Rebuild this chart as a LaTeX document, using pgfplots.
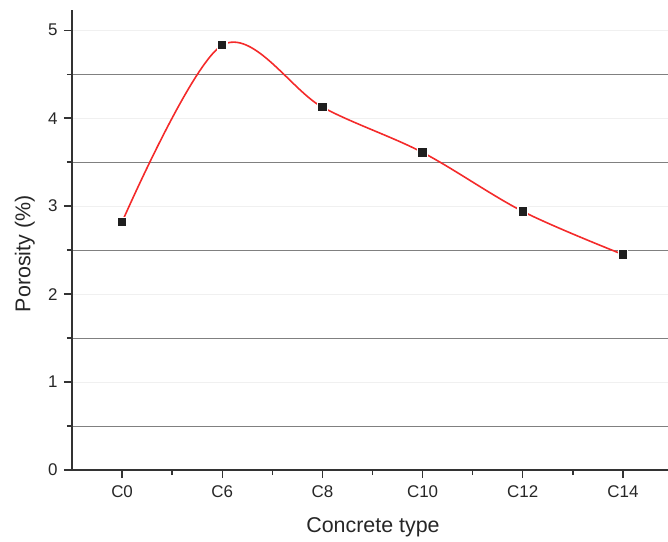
\documentclass[border=0pt]{standalone}
\usepackage{pgfplots}
\pgfplotsset{compat=1.18}
\usepackage{fontspec}
\setmainfont{Liberation Sans}
\definecolor{curvered}{HTML}{F42A2A}
\newcommand{\tf}{\fontsize{17}{20}\selectfont}
\begin{document}
\begin{tikzpicture}
\begin{axis}[
  at={(0,0)}, anchor=south west,
  scale only axis, width=596bp, height=460bp,
  xmin=-0.5, xmax=5.45, ymin=0, ymax=5.23,
  axis x line*=bottom, axis y line*=left,
  axis line style={line width=1.6pt, color=black!80},
  xtick={0,1,2,3,4,5},
  xticklabels={{\tf C0},{\tf C6},{\tf C8},{\tf C10},{\tf C12},{\tf C14}},
  minor x tick num=1,
  ytick={0,1,2,3,4,5},
  yticklabels={{\tf 0},{\tf 1},{\tf 2},{\tf 3},{\tf 4},{\tf 5}},
  minor y tick num=1,
  tick align=outside,
  major tick length=8bp, minor tick length=5bp,
  tick style={line width=1.4pt, color=black!80},
  ymajorgrids, yminorgrids,
  major grid style={line width=0.8pt, color=black!6},
  minor grid style={line width=1pt, color=black!50},
  xticklabel style={text=black!85, yshift=-4bp},
  yticklabel style={text=black!85, xshift=-3bp},
  xlabel={Concrete type}, ylabel={Porosity (\%)},
  label style={font=\fontsize{21.5}{25}\selectfont, color=black!85},
  xlabel style={at={(axis description cs:0.505,-0.124)}, anchor=center},
  ylabel style={at={(axis description cs:-0.079,0.47)}, anchor=center, rotate=0},
  clip=false,
]
\addplot[color=curvered, line width=1.6pt, smooth, tension=0.55] coordinates {
  (0,2.82) (1,4.83) (2,4.125) (3,3.61) (4,2.94) (5,2.45)
};
\addplot[only marks, mark=square*, mark size=4.8bp, mark options={draw=white, fill=black!88, line width=1.2pt}] coordinates {
  (0,2.82) (1,4.83) (2,4.125) (3,3.61) (4,2.94) (5,2.45)
};
\end{axis}
\pgfresetboundingbox
\path[use as bounding box] (-72bp,-72bp) rectangle (596bp,470bp);
\end{tikzpicture}
\end{document}
